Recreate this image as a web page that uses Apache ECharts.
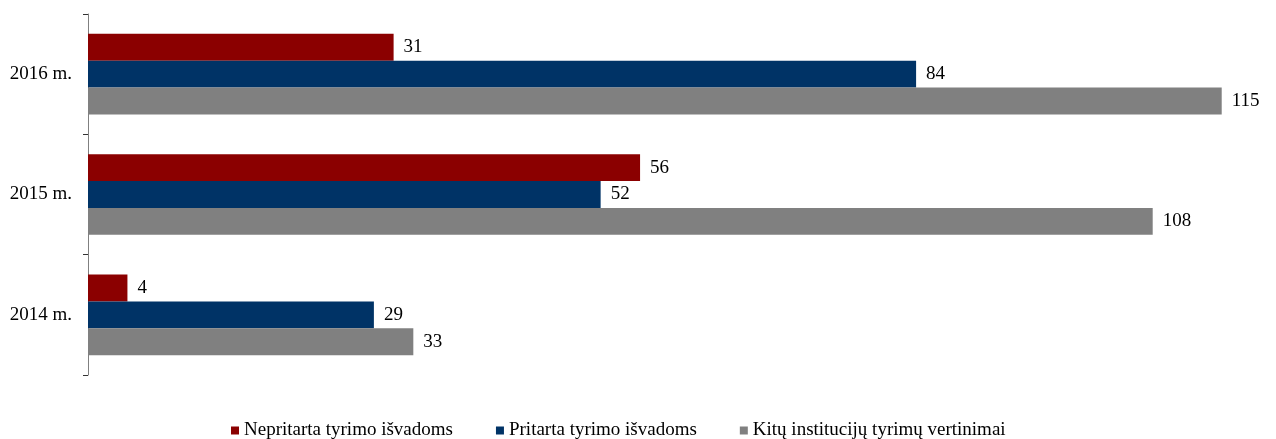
<!DOCTYPE html>
<html lang="lt">
<head>
    <meta charset="UTF-8">
    <title>Tyrimai</title>
    <style>
        body {
            margin: 0;
        }
    </style>
</head>
<body>
<div id="chart-canvas" style="width: 1276px;height:439px;"></div>
<script src="https://cdn.jsdelivr.net/npm/echarts@6/dist/echarts.min.js"></script>
<script type="text/javascript">
    const years = ["2016 m.", "2015 m.", "2014 m."]
    const names = ["Nepritarta tyrimo išvadoms", "Pritarta tyrimo išvadoms", "Kitų institucijų tyrimų vertinimai"]
    const colors = ["#8b0000", "#003366", "#808080"]
    const nepritarta = [31, 56, 4]
    const pritarta = [84, 52, 29]
    const kitu = [115, 108, 33]

    const font = "'Liberation Serif', 'Times New Roman', serif"

    let series = [nepritarta, pritarta, kitu].map((d, i) => ({
        name: names[i],
        type: 'bar',
        data: d,
        color: colors[i],
        barGap: '0%',
        barCategoryGap: '33%',
        label: {
            show: true,
            position: 'right',
            distance: 10,
            color: '#000',
            fontFamily: font,
            fontSize: 19
        }
    }))

    let myChart = echarts.init(document.getElementById('chart-canvas'));
    myChart.setOption({
        animation: false,
        grid: {left: 88, right: 5, top: 14, bottom: 64},
        legend: {
            data: names,
            bottom: -6,
            left: 226,
            icon: 'rect',
            itemWidth: 8,
            itemHeight: 8,
            itemGap: 43,
            textStyle: {fontFamily: font, fontSize: 19, color: '#000'}
        },
        xAxis: {
            type: 'value',
            min: 0,
            max: 120,
            show: false
        },
        yAxis: {
            type: 'category',
            data: years,
            inverse: true,
            axisLine: {lineStyle: {color: '#808080', width: 1}},
            axisTick: {show: true, length: 5, lineStyle: {color: '#333'}},
            axisLabel: {margin: 16, color: '#000', fontFamily: font, fontSize: 19}
        },
        series: series
    });
</script>
</body>
</html>
